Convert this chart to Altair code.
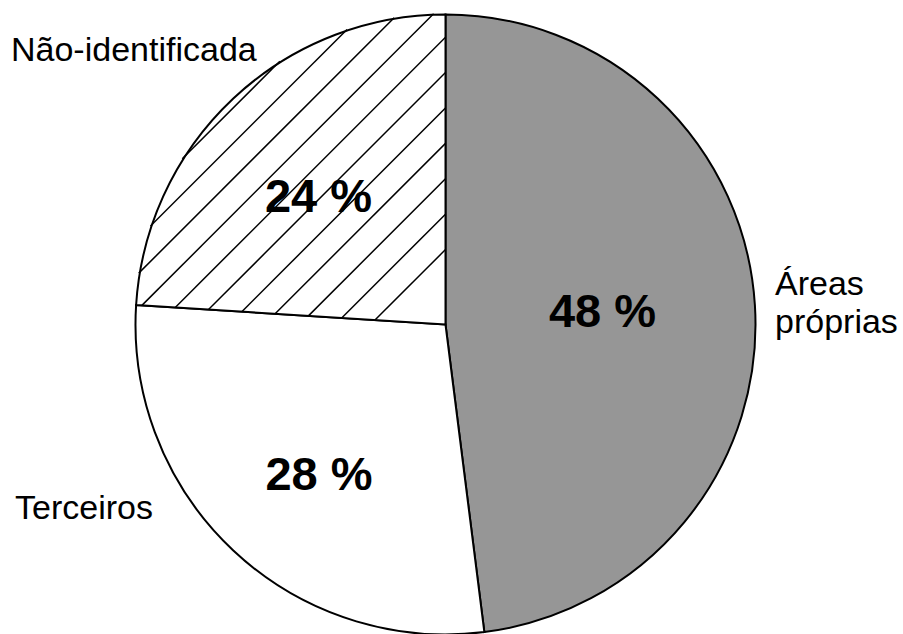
import altair as alt
import pandas as pd
import numpy as np

# ---- data ----
categories = ["Áreas próprias", "Terceiros", "Não-identificada"]
shares = [48, 28, 24]
pct_labels = ["48 %", "28 %", "24 %"]
display_names = ["Áreas\npróprias", "Terceiros", "Não-identificada"]

# ---- style / layout ----
fills = ["#969696", "#ffffff", "#ffffff"]
hatched = [False, False, True]
CX, CY, R = 445.5, 324.5, 311.0
# label anchors in units of the pie radius (u right, v up), alphabetic baseline
pct_pos_u = [0.5048, -0.4068, -0.4084]
pct_pos_v = [-0.008, -0.5322, 0.3617]
name_pos_u = [1.0595, -1.3842, -1.3971]
name_pos_v = [0.0949, -0.6254, 0.8473]
HATCH_OFFSET = -0.241
HATCH_SPACING = 0.1138
FONT = "Liberation Sans"

xscale = alt.Scale(domain=[-1, 1], range=[CX - R, CX + R])
yscale = alt.Scale(domain=[-1, 1], range=[CY + R, CY - R])

pie_df = pd.DataFrame({
    "cat": categories,
    "value": shares,
    "order": list(range(len(categories))),
    "fill": fills,
    "u0": 0.0,
    "v0": 0.0,
})

# ---- hatch lines for hatched slices, derived from the slice angles ----
total = float(sum(shares))
segs = []
cum = 0.0
for val, h in zip(shares, hatched):
    ts = cum / total * 2 * np.pi
    te = (cum + val) / total * 2 * np.pi
    cum += val
    if not h:
        continue
    s = (np.sin(ts), np.cos(ts))
    e = (np.sin(te), np.cos(te))
    k = HATCH_OFFSET
    while k > -np.sqrt(2):
        disc = 2 - k * k
        lo = (k - np.sqrt(disc)) / 2
        hi = (k + np.sqrt(disc)) / 2
        ok = True
        # p(t) = (t, t-k); cross(s,p) <= 0 ; cross(p,e) <= 0
        for a, b in [((s[0] - s[1]), -s[0] * k), ((e[1] - e[0]), e[0] * k)]:
            if a > 1e-12:
                hi = min(hi, -b / a)
            elif a < -1e-12:
                lo = max(lo, -b / a)
            elif b > 0:
                ok = False
        if ok and hi > lo:
            segs.append({"u1": lo, "v1": lo - k, "u2": hi, "v2": hi - k})
        k -= HATCH_SPACING
hatch_df = pd.DataFrame(segs)

pct_df = pd.DataFrame({"t": pct_labels, "u": pct_pos_u, "v": pct_pos_v})
name_df = pd.DataFrame({"t": display_names, "u": name_pos_u, "v": name_pos_v})

arc = alt.Chart(pie_df).mark_arc(radius=R - 1, stroke="black", strokeWidth=2).encode(
    theta=alt.Theta("value:Q", stack=True),
    order=alt.Order("order:Q"),
    color=alt.Color("fill:N", scale=None, legend=None),
    x=alt.X("u0:Q", scale=xscale, axis=None),
    y=alt.Y("v0:Q", scale=yscale, axis=None),
)

hatch = alt.Chart(hatch_df).mark_rule(stroke="black", strokeWidth=1.5).encode(
    x=alt.X("u1:Q", scale=xscale, axis=None),
    y=alt.Y("v1:Q", scale=yscale, axis=None),
    x2="u2:Q",
    y2="v2:Q",
)

pct = alt.Chart(pct_df).mark_text(
    font=FONT, fontSize=47, fontWeight="bold", align="center",
    baseline="alphabetic", color="black",
).encode(
    x=alt.X("u:Q", scale=xscale, axis=None),
    y=alt.Y("v:Q", scale=yscale, axis=None),
    text="t:N",
)

names = alt.Chart(name_df).mark_text(
    font=FONT, fontSize=34, align="left", baseline="alphabetic",
    color="black", lineBreak="\n", lineHeight=38,
).encode(
    x=alt.X("u:Q", scale=xscale, axis=None),
    y=alt.Y("v:Q", scale=yscale, axis=None),
    text="t:N",
)

chart = alt.layer(arc, hatch, pct, names).properties(
    width=903, height=634, padding=0, autosize="none", background="white"
).configure_view(stroke=None)

chart.save("out.html", embed_options={"renderer": "svg", "actions": False})
